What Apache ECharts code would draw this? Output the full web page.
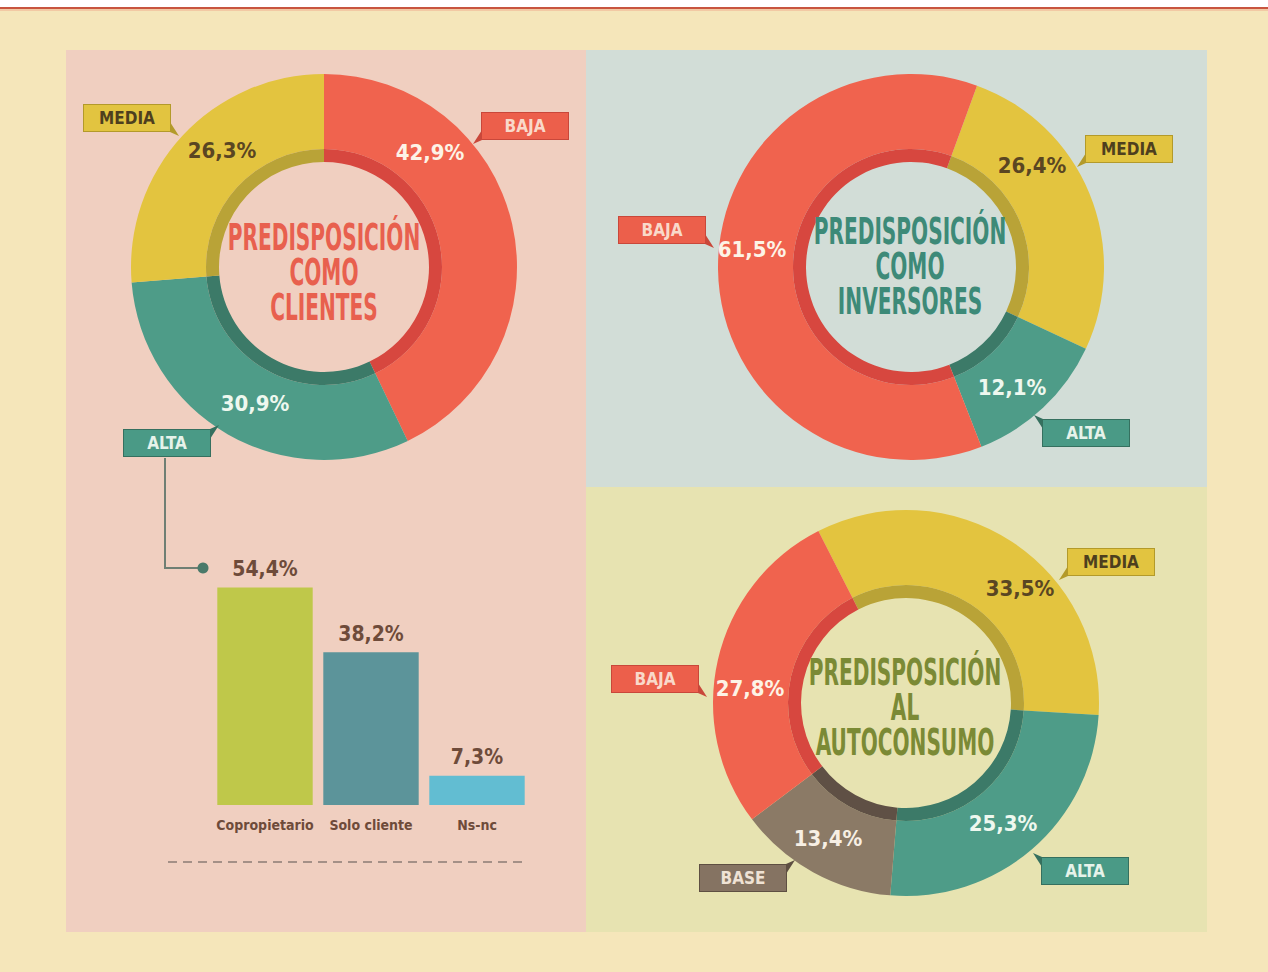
<!DOCTYPE html>
<html>
<head>
<meta charset="utf-8">
<script src="https://cdn.jsdelivr.net/npm/echarts@6/dist/echarts.min.js"></script>
<style>
  html, body { margin: 0; padding: 0; background: #f5e6ba; }
  #main { width: 1268px; height: 972px; }
</style>
</head>
<body>
<div id="main"></div>
<script>
// data
var clientesCats = ['BAJA', 'ALTA', 'MEDIA'];
var clientesVals = [42.9, 30.9, 26.3];

var inversoresCats = ['MEDIA', 'ALTA', 'BAJA'];
var inversoresVals = [26.4, 12.1, 61.5];

var autoconsumoCats = ['MEDIA', 'ALTA', 'BASE', 'BAJA'];
var autoconsumoVals = [33.5, 25.3, 13.4, 27.8];

var barCats = ['Copropietario', 'Solo cliente', 'Ns-nc'];
var barVals = [54.4, 38.2, 7.3];

var FONT = "'Liberation Sans Narrow', 'DejaVu Sans Condensed', 'Roboto', sans-serif";

var palette = {
  BAJA:  { main: '#f0634e', dark: '#d7473f', pct: '#fdf3e6', tagBg: '#ec5f4b', tagBorder: '#c9473a', tagText: '#f9d9ca' },
  MEDIA: { main: '#e3c43f', dark: '#b9a337', pct: '#5a4622', tagBg: '#e2c440', tagBorder: '#b39a2a', tagText: '#4e3f1e' },
  ALTA:  { main: '#4e9c88', dark: '#3c7a68', pct: '#eef8ef', tagBg: '#4a9a86', tagBorder: '#35705f', tagText: '#e6f3ea' },
  BASE:  { main: '#8b7a66', dark: '#5f5045', pct: '#f7efe4', tagBg: '#857362', tagBorder: '#5e4f42', tagText: '#efe2d4' }
};
var barColors = ['#bfc84a', '#5c949a', '#62bdd2'];

// where the percentage text and the name tag of each slice sit, and which corner the tag's tail is on
var labelPos = {
  clientes: {
    BAJA:  { pct: [430, 152], tag: [525, 126], tail: 'bl' },
    ALTA:  { pct: [255, 403], tag: [167, 443], tail: 'tr' },
    MEDIA: { pct: [222, 150], tag: [127, 118], tail: 'br' }
  },
  inversores: {
    MEDIA: { pct: [1032, 165], tag: [1129, 149], tail: 'bl' },
    ALTA:  { pct: [1012, 387], tag: [1086, 433], tail: 'tl' },
    BAJA:  { pct: [752, 249],  tag: [662, 230],  tail: 'br' }
  },
  autoconsumo: {
    MEDIA: { pct: [1020, 588], tag: [1111, 562], tail: 'bl' },
    ALTA:  { pct: [1003, 823], tag: [1085, 871], tail: 'tl' },
    BASE:  { pct: [828, 838],  tag: [743, 878],  tail: 'tr' },
    BAJA:  { pct: [750, 688],  tag: [655, 679],  tail: 'br' }
  }
};
var TAG_W = 88, TAG_H = 28;

function fmt(v) {
  return v.toFixed(1).replace('.', ',') + '%';
}

function donut(key, cats, vals, center, startAngle) {
  var pos = labelPos[key];
  var ring = {
    type: 'pie',
    name: key,
    center: center,
    radius: [118, 193],
    startAngle: startAngle,
    silent: true,
    avoidLabelOverlap: false,
    label: {
      show: true,
      position: 'inside',
      formatter: function (p) { return fmt(p.value); },
      fontFamily: FONT,
      fontWeight: 'bold',
      fontSize: 22,
      textBorderWidth: 0
    },
    labelLine: { show: false },
    labelLayout: function (p) {
      var xy = pos[cats[p.dataIndex]].pct;
      return { x: xy[0], y: xy[1], align: 'center', verticalAlign: 'middle' };
    },
    data: cats.map(function (c, i) {
      return { name: c, value: vals[i], itemStyle: { color: palette[c].main }, label: { color: palette[c].pct } };
    })
  };
  var band = {
    type: 'pie',
    name: key + '-band',
    center: center,
    radius: [105, 118],
    startAngle: startAngle,
    silent: true,
    avoidLabelOverlap: false,
    label: {
      show: true,
      position: 'inside',
      formatter: '{b}',
      fontFamily: FONT,
      fontWeight: 'bold',
      fontSize: 17,
      width: TAG_W - 2,
      height: TAG_H - 2,
      lineHeight: TAG_H - 2,
      align: 'center',
      borderWidth: 1,
      textBorderWidth: 0
    },
    labelLine: { show: false },
    labelLayout: function (p) {
      var xy = pos[cats[p.dataIndex]].tag;
      return { x: xy[0], y: xy[1], align: 'center', verticalAlign: 'middle' };
    },
    data: cats.map(function (c, i) {
      var pl = palette[c];
      return {
        name: c, value: vals[i],
        itemStyle: { color: pl.dark },
        label: { color: pl.tagText, backgroundColor: pl.tagBg, borderColor: pl.tagBorder }
      };
    })
  };
  return [ring, band];
}

// small folded corner on each tag
function tails() {
  var out = [];
  Object.keys(labelPos).forEach(function (k) {
    Object.keys(labelPos[k]).forEach(function (c) {
      var t = labelPos[k][c];
      var sx = t.tail.charAt(1) === 'l' ? -1 : 1;
      var sy = t.tail.charAt(0) === 't' ? -1 : 1;
      var x0 = t.tag[0] + sx * TAG_W / 2;
      var y0 = t.tag[1] + sy * TAG_H / 2;
      out.push({
        type: 'polygon', z: 20, silent: true,
        shape: { points: [[x0 - sx, y0 - sy * 10], [x0 - sx, y0], [x0 + sx * 8, y0 + sy * 4]] },
        style: { fill: palette[c].tagBorder }
      });
    });
  });
  return out;
}

function title(text, x, y, color) {
  return {
    type: 'text', x: x, y: y, z: 50, scaleX: 0.86, scaleY: 1.4, silent: true,
    style: {
      text: text, fill: color,
      font: 'bold 26px ' + FONT,
      fontFamily: FONT, fontSize: 26, fontWeight: 'bold',
      lineHeight: 25,
      align: 'center', verticalAlign: 'middle',
      textAlign: 'center', textVerticalAlign: 'middle'
    }
  };
}

var chart = echarts.init(document.getElementById('main'), null, { renderer: 'svg' });

var option = {
  animation: false,
  backgroundColor: '#f5e6ba',
  graphic: [
    { type: 'rect', z: -10, shape: { x: 0, y: 0, width: 1268, height: 7 }, style: { fill: '#ffffff' } },
    { type: 'rect', z: -10, shape: { x: 0, y: 7, width: 1268, height: 2 }, style: { fill: '#c8553f' } },
    { type: 'rect', z: -10, shape: { x: 0, y: 9, width: 1268, height: 2 }, style: { fill: '#f2c9a4' } },
    { type: 'rect', z: -10, shape: { x: 66, y: 50, width: 520, height: 882 }, style: { fill: '#f0cfc0' } },
    { type: 'rect', z: -10, shape: { x: 586, y: 50, width: 621, height: 437 }, style: { fill: '#d2ddd7' } },
    { type: 'rect', z: -10, shape: { x: 586, y: 487, width: 621, height: 445 }, style: { fill: '#e7e3b1' } },
    { type: 'polyline', z: 5, shape: { points: [[165, 458], [165, 568], [200, 568]] }, style: { stroke: '#6f7f74', lineWidth: 2, fill: null } },
    { type: 'circle', z: 6, shape: { cx: 203, cy: 568, r: 5.5 }, style: { fill: '#4a7a6a' } },
    { type: 'line', z: 5, shape: { x1: 168, y1: 862, x2: 527, y2: 862 }, style: { stroke: '#8a7c74', lineWidth: 1.5, lineDash: [9, 6] } },
    title('PREDISPOSICIÓN\nCOMO\nCLIENTES', 324, 272, '#e8604e'),
    title('PREDISPOSICIÓN\nCOMO\nINVERSORES', 910, 266, '#3d8a78'),
    title('PREDISPOSICIÓN\nAL\nAUTOCONSUMO', 905, 707, '#7b8a35')
  ].concat(tails()),
  grid: { left: 212, top: 565, width: 318, height: 240 },
  xAxis: {
    type: 'category',
    data: barCats,
    axisLine: { show: false },
    axisTick: { show: false },
    axisLabel: { interval: 0, color: '#6e4b3a', fontFamily: FONT, fontWeight: 'bold', fontSize: 14, margin: 13 }
  },
  yAxis: {
    type: 'value', min: 0, max: 60, show: false,
    splitLine: { show: false }
  },
  series: [].concat(
    donut('clientes', clientesCats, clientesVals, [324, 267], 90),
    donut('inversores', inversoresCats, inversoresVals, [911, 267], 70),
    donut('autoconsumo', autoconsumoCats, autoconsumoVals, [906, 703], 117),
    [{
      type: 'bar',
      barCategoryGap: '10%',
      silent: true,
      data: barVals.map(function (v, i) { return { value: v, itemStyle: { color: barColors[i] } }; }),
      label: {
        show: true, position: 'top', distance: 8,
        formatter: function (p) { return fmt(p.value); },
        color: '#6e4b3a', fontFamily: FONT, fontWeight: 'bold', fontSize: 21
      }
    }]
  )
};

chart.setOption(option);
</script>
</body>
</html>
